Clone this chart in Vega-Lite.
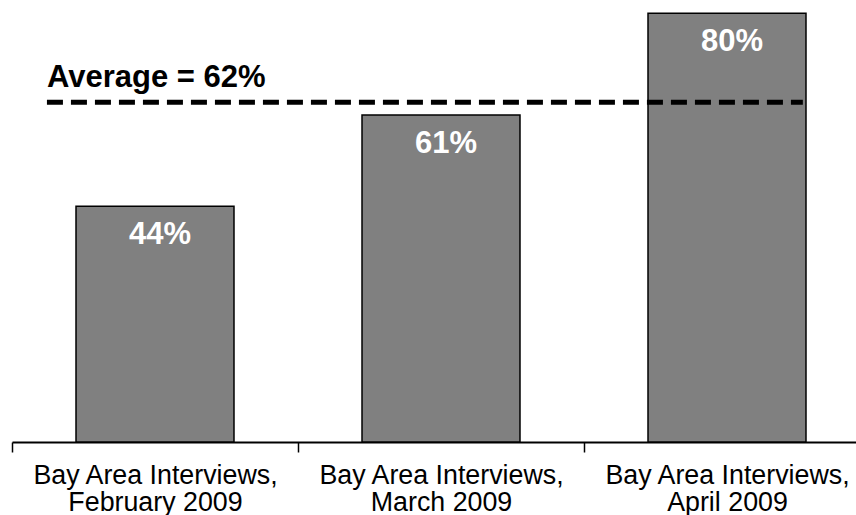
{
  "$schema": "https://vega.github.io/schema/vega-lite/v6.json",
  "autosize": {"type": "none"},
  "padding": {"left": 12, "top": 0, "right": 0, "bottom": 73},
  "width": 844,
  "height": 442,
  "config": {
    "view": {"stroke": null},
    "font": "Liberation Sans"
  },
  "datasets": {
    "bars": [
      {"cat": "Bay Area Interviews,|February 2009", "value": 44, "label": "44%"},
      {"cat": "Bay Area Interviews,|March 2009", "value": 61, "label": "61%"},
      {"cat": "Bay Area Interviews,|April 2009", "value": 80, "label": "80%"}
    ],
    "avg": [
      {"start": "Bay Area Interviews,|February 2009", "end": "Bay Area Interviews,|April 2009", "value": 63.4, "label": "Average = 62%"}
    ]
  },
  "layer": [
    {
      "data": {"name": "bars"},
      "mark": {"type": "bar", "fill": "#808080", "stroke": "#000000", "strokeWidth": 1.5},
      "encoding": {
        "x": {
          "field": "cat", "type": "nominal",
          "scale": {"domain": ["Bay Area Interviews,|February 2009", "Bay Area Interviews,|March 2009", "Bay Area Interviews,|April 2009"], "range": [0, 858], "paddingInner": 0.4476, "paddingOuter": 0.2238},
          "axis": {
            "title": null, "labelAngle": 0, "labelExpr": "split(datum.label, '|')",
            "labelFontSize": 26.8, "labelColor": "#000000", "labelLineHeight": 27,
            "labelPadding": 10, "labelLimit": 0, "labelFont": "Liberation Sans",
            "domainColor": "#000000", "domainWidth": 2,
            "tickColor": "#000000", "tickWidth": 1.5, "tickSize": 10,
            "tickOffset": -143, "labelOffset": 143,
            "grid": false
          }
        },
        "y": {"field": "value", "type": "quantitative", "scale": {"domain": [0, 82.46], "nice": false, "zero": true}, "axis": null}
      }
    },
    {
      "data": {"name": "bars"},
      "mark": {"type": "text", "color": "#ffffff", "fontWeight": "bold", "fontSize": 31, "baseline": "alphabetic", "align": "center", "dy": 37.5, "dx": 5},
      "encoding": {
        "x": {"field": "cat", "type": "nominal"},
        "y": {"field": "value", "type": "quantitative"},
        "text": {"field": "label"}
      }
    },
    {
      "data": {"name": "avg"},
      "mark": {"type": "rule", "color": "#000000", "strokeWidth": 5, "strokeDash": [16, 8]},
      "encoding": {
        "x": {"field": "start", "type": "nominal", "bandPosition": -0.184},
        "x2": {"field": "end", "bandPosition": 0.98},
        "y": {"field": "value", "type": "quantitative"}
      }
    },
    {
      "data": {"name": "avg"},
      "mark": {"type": "text", "color": "#000000", "fontWeight": "bold", "fontSize": 31, "baseline": "alphabetic", "align": "left", "dy": -15.5},
      "encoding": {
        "x": {"field": "start", "type": "nominal", "bandPosition": -0.184},
        "y": {"field": "value", "type": "quantitative"},
        "text": {"field": "label"}
      }
    }
  ]
}
